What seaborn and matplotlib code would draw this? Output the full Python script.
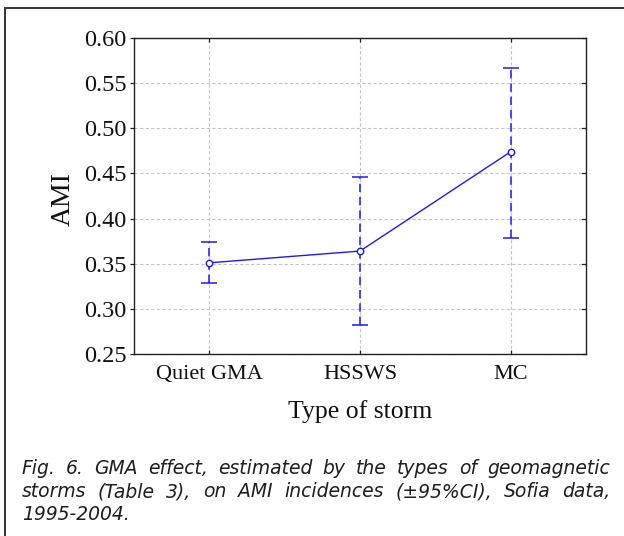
import matplotlib
matplotlib.use("Agg")
import matplotlib.pyplot as plt
import matplotlib.transforms as mtransforms
from matplotlib.lines import Line2D
import seaborn as sns
import pandas as pd

# Mean AMI incidence per type of geomagnetic storm, with 95% CI bounds
storm_types = ["Quiet GMA", "HSSWS", "MC"]
ami_mean = [0.351, 0.364, 0.474]
ci_low = [0.329, 0.282, 0.378]
ci_high = [0.374, 0.446, 0.567]
y_ticks = [0.25, 0.30, 0.35, 0.40, 0.45, 0.50, 0.55, 0.60]

caption_lines = [
    "Fig. 6. GMA effect, estimated by the types of geomagnetic",
    "storms (Table 3), on AMI incidences (\u00b195%CI), Sofia data,",
    "1995-2004.",
]

sns.set_theme(style="white")
plt.rcParams["font.family"] = ["Liberation Serif", "DejaVu Serif"]

W, H = 624, 536
fig = plt.figure(figsize=(W / 100, H / 100), dpi=100)
fig.patch.set_facecolor("white")

ax_l, ax_r, ax_t, ax_b = 134, 586, 38, 354
ax = fig.add_axes([ax_l / W, 1 - ax_b / H, (ax_r - ax_l) / W, (ax_b - ax_t) / H])

df = pd.DataFrame({"storm": storm_types, "ami": ami_mean})
blue = "#1a1aff"

# Dashed confidence-interval bars with caps
xpos = list(range(len(storm_types)))
err = [[m - lo for m, lo in zip(ami_mean, ci_low)],
       [hi - m for m, hi in zip(ami_mean, ci_high)]]
eb = ax.errorbar(xpos, ami_mean, yerr=err, fmt="none", ecolor=blue,
                 elinewidth=1.1, capsize=6, capthick=1.1, zorder=3)
for coll in eb[2]:
    coll.set_linestyle((0, (5.5, 3.2)))

# Mean line with open circle markers
sns.lineplot(data=df, x="storm", y="ami", ax=ax, color=blue, linewidth=1.0,
             marker="o", markersize=4.6, markerfacecolor="white",
             markeredgecolor=blue, markeredgewidth=1.0, sort=False, zorder=4)

ax.set_xlim(-0.5, 2.5)
ax.set_ylim(0.25, 0.60)
ax.set_yticks(y_ticks)
ax.set_yticklabels([f"{v:.2f}" for v in y_ticks], fontsize=17.5)
ax.set_xticks(xpos)
ax.set_xticklabels(storm_types, fontsize=16)

# Shift the last category label slightly lower
lbls = ax.get_xticklabels()
offset = mtransforms.ScaledTranslation(0, -5 / 100, fig.dpi_scale_trans)
lbls[-1].set_transform(lbls[-1].get_transform() + offset)

ax.grid(True, color="#c4c4c4", linestyle=(0, (3, 2)), linewidth=0.8)
ax.set_axisbelow(True)

for side in ["left", "bottom", "right", "top"]:
    ax.spines[side].set_visible(True)
    ax.spines[side].set_color("#222222")
    ax.spines[side].set_linewidth(1.0)

ax.tick_params(axis="y", which="major", left=True, right=False, direction="out",
               length=3, width=0.9, color="#222222", pad=2.5, labelcolor="#111111")
ax.tick_params(axis="x", which="major", bottom=True, top=True, direction="in",
               length=3, width=0.9, color="#222222", pad=8, labelcolor="#111111")
# inward ticks on the right spine
for y in y_ticks:
    ax.plot([1.0, 0.992], [y, y], transform=ax.get_yaxis_transform(),
            color="#222222", linewidth=0.9, clip_on=False)

ax.set_xlabel("Type of storm", fontsize=18.5, color="#111111", va="center")
ax.xaxis.set_label_coords(0.5, -(412 - ax_b) / (ax_b - ax_t))
ax.set_ylabel("AMI", fontsize=20, color="#111111", va="center")
ax.yaxis.set_label_coords(-(ax_l - 63) / (ax_r - ax_l), 0.49)

# Page frame lines
fig.add_artist(Line2D([4.5 / W, 4.5 / W], [0, 1 - 7.5 / H], transform=fig.transFigure,
                      color="#333333", linewidth=1.4))
fig.add_artist(Line2D([4.5 / W, 1], [1 - 7.5 / H, 1 - 7.5 / H], transform=fig.transFigure,
                      color="#333333", linewidth=1.4))

# Justified caption
renderer = fig.canvas.get_renderer()
cap_kw = dict(family=["DejaVu Sans"], style="italic", fontsize=13.5,
              color="#1e1e1e", va="baseline", ha="left")
x0, x1 = 22, 610
baselines = [474, 497, 520]
for i, (line, yb) in enumerate(zip(caption_lines, baselines)):
    words = line.split(" ")
    texts = [fig.text(0, 1 - yb / H, w_, **cap_kw) for w_ in words]
    widths = [t.get_window_extent(renderer).width for t in texts]
    if i < len(caption_lines) - 1 and len(words) > 1:
        gap = (x1 - x0 - sum(widths)) / (len(words) - 1)
    else:
        sp = fig.text(0, 0, " ", **cap_kw)
        gap = sp.get_window_extent(renderer).width
        sp.remove()
    x = x0
    for t, wd in zip(texts, widths):
        t.set_x(x / W)
        x += wd + gap

fig.savefig("out.png", dpi=100, facecolor="white")
